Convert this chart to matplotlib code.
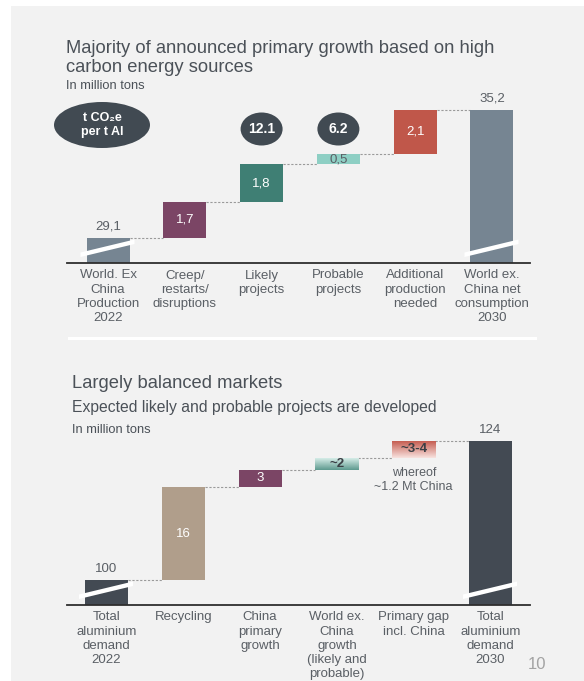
import numpy as np
import matplotlib
matplotlib.use("Agg")
import matplotlib.pyplot as plt
from matplotlib.patches import Rectangle, Ellipse, Polygon
from matplotlib.colors import LinearSegmentedColormap
from matplotlib.transforms import IdentityTransform, offset_copy

# ── Colours ────────────────────────────────────────────────────────────────
PANEL = "#f2f2f2"
TITLE = "#4b5158"
LABEL = "#5a5f65"
SLATE = "#768592"
CHARCOAL = "#434a53"
PURPLE = "#7b4565"
TEAL = "#3f7f74"
MINT = "#8ecfc4"
RED = "#c0574a"
TAN = "#b09e8b"
PILL = "#414a52"
CONNECT = "#9a9a9a"

plt.rcParams.update({
    "font.family": ["Liberation Sans", "DejaVu Sans"],
    "font.size": 9.5,
    "text.color": LABEL,
})

W, H = 584, 681
DPI = 100

# ── Data: supply bridge (world ex. China) ──────────────────────────────────
top_labels = [
    "World. Ex\nChina\nProduction\n2022",
    "Creep/\nrestarts/\ndisruptions",
    "Likely\nprojects",
    "Probable\nprojects",
    "Additional\nproduction\nneeded",
    "World ex.\nChina net\nconsumption\n2030",
]
top_values = [29.1, 1.7, 1.8, 0.5, 2.1, 35.2]
top_is_total = [True, False, False, False, False, True]
top_colors = [SLATE, PURPLE, TEAL, MINT, RED, SLATE]
top_text_colors = [LABEL, "white", "white", LABEL, "white", LABEL]

co2_bars = [2, 3]
co2_values = [12.1, 6.2]

# ── Data: global demand bridge ─────────────────────────────────────────────
bottom_labels = [
    "Total\naluminium\ndemand\n2022",
    "Recycling",
    "China\nprimary\ngrowth",
    "World ex.\nChina\ngrowth\n(likely and\nprobable)",
    "Primary gap\nincl. China",
    "Total\naluminium\ndemand\n2030",
]
bottom_values = [100, 16, 3, 2, 3, 124]
bottom_value_text = ["100", "16", "3", "~2", "~3-4", "124"]
bottom_is_total = [True, False, False, False, False, True]
bottom_colors = [CHARCOAL, TAN, PURPLE, None, None, CHARCOAL]
bottom_gradients = {3: ("#d5ece7", "#5e9a8f"), 4: ("#c3564a", "#f7e2de")}
bottom_text_colors = [LABEL, "white", "white", "#3a3f45", "#3a3f45", LABEL]

BAR_W = 0.56


def fx(x):
    return x / W


def fy(y):
    return 1 - y / H


fig = plt.figure(figsize=(W / DPI, H / DPI), dpi=DPI, facecolor="white")
fig.patches.append(Rectangle((fx(11), 0), 1 - fx(11), fy(6), transform=fig.transFigure,
                             facecolor=PANEL, edgecolor="none", zorder=-10))
# white divider between the two panels
fig.patches.append(Rectangle((fx(68), fy(339.5)), fx(537 - 68), 3 / H,
                             transform=fig.transFigure, facecolor="white",
                             edgecolor="none", zorder=-5))


def add_axes(left, right, top_px, base_px):
    ax = fig.add_axes([fx(left), fy(base_px), fx(right - left), (base_px - top_px) / H])
    ax.set_facecolor("none")
    for s in ["top", "right", "left"]:
        ax.spines[s].set_visible(False)
    ax.spines["bottom"].set_color("#2e2e2e")
    ax.spines["bottom"].set_linewidth(1.3)
    ax.set_xticks([])
    ax.set_yticks([])
    return ax


def break_mark(ax, x_center, base_px):
    # white slash across a truncated bar, built in pixel space
    left = ax.transData.transform((x_center - BAR_W / 2, 0))[0] - 6
    right = ax.transData.transform((x_center + BAR_W / 2, 0))[0] + 5
    b = H - base_px
    pts = [(left, b + 6), (right, b + 19), (right, b + 23.5), (left, b + 10.5)]
    ax.add_patch(Polygon(pts, closed=True, transform=IdentityTransform(),
                         facecolor="white", edgecolor="none", zorder=5,
                         clip_on=False))


def waterfall(ax, values, is_total, colors, gradients, base_px):
    y0 = ax.get_ylim()[0]
    running = 0
    tops = []
    for i, (v, tot) in enumerate(zip(values, is_total)):
        if tot:
            bottom, top = y0, v
            running = v
        else:
            bottom, top = running, running + v
            running = top
        tops.append((bottom, top))
        if i in gradients:
            c_top, c_bot = gradients[i]
            cmap = LinearSegmentedColormap.from_list("g", [c_bot, c_top])
            rect = Rectangle((i - BAR_W / 2, bottom), BAR_W, top - bottom,
                             facecolor="none", edgecolor="none")
            ax.add_patch(rect)
            im = ax.imshow(np.linspace(1, 0, 50).reshape(-1, 1), cmap=cmap,
                           extent=[i - BAR_W / 2, i + BAR_W / 2, bottom, top],
                           aspect="auto", zorder=2, vmin=0, vmax=1)
            im.set_clip_path(rect)
        else:
            ax.bar(i, top - bottom, bottom=bottom, width=BAR_W, color=colors[i],
                   zorder=2)
        if tot:
            break_mark(ax, i, base_px)
    # dashed connectors between neighbouring bars
    for i in range(len(values) - 1):
        level = tops[i][1]
        ax.plot([i + BAR_W / 2, i + 1 - BAR_W / 2], [level, level], color=CONNECT,
                lw=0.8, ls=(0, (2, 1.5)), zorder=1)
    return tops


def category_labels(ax, labels):
    trans = offset_copy(ax.transData, fig=fig, y=-6.5, units="dots")
    y0 = ax.get_ylim()[0]
    for i, lab in enumerate(labels):
        ax.text(i, y0, lab, transform=trans, ha="center", va="top", fontsize=9.5,
                color=LABEL, linespacing=1.24)


# ── Top panel ──────────────────────────────────────────────────────────────
ax1 = add_axes(67, 530, 96, 263)
ax1.set_xlim(-0.534, 5.495)
ax1.set_ylim(27.9, 35.85)
tops1 = waterfall(ax1, top_values, top_is_total, top_colors, {}, 263)
above = offset_copy(ax1.transData, fig=fig, y=5, units="dots")
for i, (v, tot) in enumerate(zip(top_values, top_is_total)):
    txt = f"{v:.1f}".replace(".", ",")
    b, t = tops1[i]
    if tot:
        ax1.text(i, t, txt, transform=above, ha="center", va="bottom",
                 color=LABEL, fontsize=9.5)
    else:
        ax1.text(i, (b + t) / 2, txt, ha="center", va="center",
                 color=top_text_colors[i], fontsize=9.5, zorder=4)
category_labels(ax1, top_labels)

# CO2 intensity pills
fig.patches.append(Ellipse((fx(102), fy(125)), fx(96), 46 / H, transform=fig.transFigure,
                           facecolor=PILL, edgecolor="none"))
fig.text(fx(102), fy(125), "t CO₂e\nper t Al", ha="center", va="center",
         color="white", fontsize=9, fontweight="bold", linespacing=1.25)
for i, val in zip(co2_bars, co2_values):
    xc = ax1.transData.transform((i, 30))[0]
    fig.patches.append(Ellipse((xc / W, fy(129)), fx(42), 33 / H,
                               transform=fig.transFigure, facecolor=PILL,
                               edgecolor="none"))
    fig.text(xc / W, fy(129), f"{val:.1f}", ha="center", va="center",
             color="white", fontsize=10, fontweight="bold")

fig.text(fx(66), fy(40), "Majority of announced primary growth based on high\n"
         "carbon energy sources", ha="left", va="top", fontsize=13.2,
         color=TITLE, linespacing=1.14)
fig.text(fx(66), fy(80), "In million tons", ha="left", va="top", fontsize=9.3,
         color=TITLE)

# ── Bottom panel ───────────────────────────────────────────────────────────
ax2 = add_axes(67, 530, 425, 605)
ax2.set_xlim(-0.514, 5.514)
ax2.set_ylim(95.7, 126.7)
tops2 = waterfall(ax2, bottom_values, bottom_is_total, bottom_colors,
                  bottom_gradients, 605)
ax2.set_xlim(-0.514, 5.514)
ax2.set_ylim(95.7, 126.7)
above2 = offset_copy(ax2.transData, fig=fig, y=5, units="dots")
for i, (txt, tot) in enumerate(zip(bottom_value_text, bottom_is_total)):
    b, t = tops2[i]
    if tot:
        ax2.text(i, t, txt, transform=above2, ha="center", va="bottom",
                 color=LABEL, fontsize=9.5)
    else:
        ax2.text(i, (b + t) / 2, txt, ha="center", va="center",
                 color=bottom_text_colors[i], fontsize=9.5, zorder=4,
                 fontweight="bold" if txt.startswith("~") else "normal")
category_labels(ax2, bottom_labels)

gap_i = 4
below = offset_copy(ax2.transData, fig=fig, y=-9, units="dots")
ax2.text(gap_i, tops2[gap_i][0], "whereof\n~1.2 Mt China", transform=below,
         ha="center", va="top", fontsize=9, color=LABEL, linespacing=1.2)

fig.text(fx(72), fy(375), "Largely balanced markets", ha="left", va="top",
         fontsize=13.2, color=TITLE)
fig.text(fx(72), fy(400), "Expected likely and probable projects are developed",
         ha="left", va="top", fontsize=11.3, color=TITLE)
fig.text(fx(72), fy(424), "In million tons", ha="left", va="top", fontsize=9.3,
         color=TITLE)

fig.text(fx(546), fy(669), "10", ha="right", va="baseline", fontsize=12,
         color="#a3a3a3")

fig.savefig("out.png", dpi=DPI, facecolor=fig.get_facecolor())
